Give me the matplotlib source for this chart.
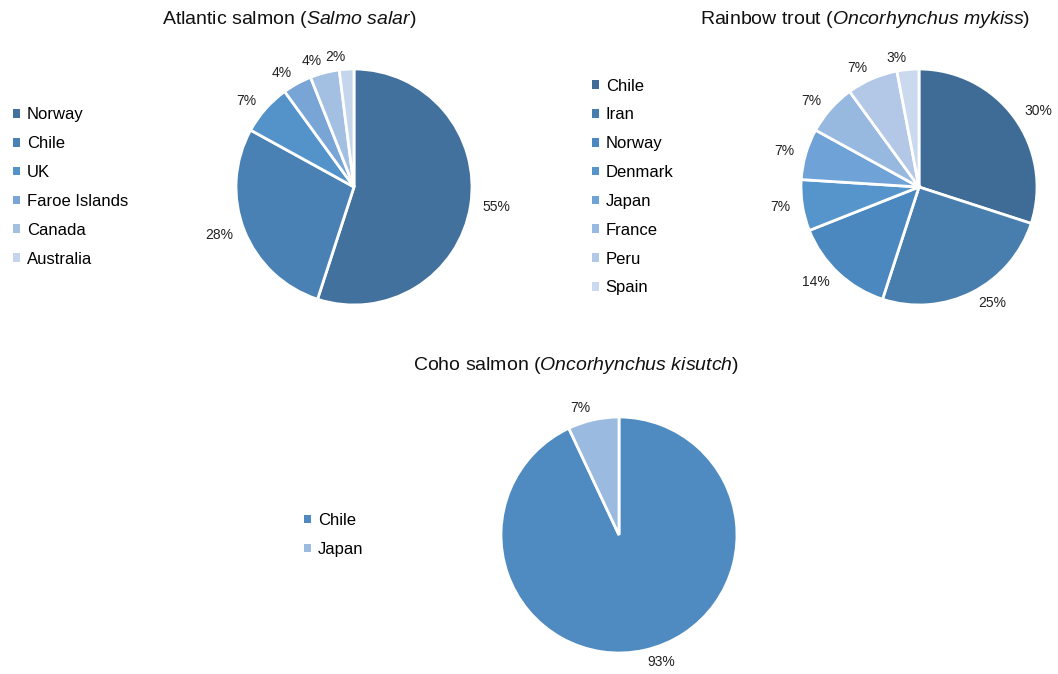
import matplotlib.pyplot as plt
from matplotlib.patches import Rectangle

plt.rcParams['font.family'] = ['Liberation Sans', 'DejaVu Sans']
plt.rcParams['mathtext.fontset'] = 'custom'
plt.rcParams['mathtext.rm'] = 'Liberation Sans'
plt.rcParams['mathtext.it'] = 'Liberation Sans:italic'

atl_names = ['Norway', 'Chile', 'UK', 'Faroe Islands', 'Canada', 'Australia']
atl_vals = [55, 28, 7, 4, 4, 2]
atl_cols = ['#41719c', '#4a81b4', '#5393ca', '#79a5d6', '#a3c0e3', '#c5d5ec']

rbt_names = ['Chile', 'Iran', 'Norway', 'Denmark', 'Japan', 'France', 'Peru', 'Spain']
rbt_vals = [30, 25, 14, 7, 7, 7, 7, 3]
rbt_cols = ['#3f6c96', '#477eae', '#4b88bf', '#5595cc', '#6fa2d7', '#97b8df', '#b2c8e6', '#cad9ee']

coho_names = ['Chile', 'Japan']
coho_vals = [93, 7]
coho_cols = ['#4f8bc0', '#9abae0']

W, H = 1058, 674
fig = plt.figure(figsize=(W / 100, H / 100), dpi=100)

R = 118


def draw(cx, cy, vals, names, cols, title, tx, ty, lx):
    ax = fig.add_axes([(cx - R) / W, 1 - (cy + R) / H, 2 * R / W, 2 * R / H])
    ax.pie(vals, colors=cols, startangle=90, counterclock=False,
           labels=['%d%%' % v for v in vals], labeldistance=1.1,
           wedgeprops=dict(edgecolor='white', linewidth=2),
           textprops=dict(fontsize=10, color='#222222'))
    ax.set_xlim(-1, 1)
    ax.set_ylim(-1, 1)
    ax.set_aspect('auto')
    fig.text(tx / W, 1 - ty / H, title, ha='center', va='center', fontsize=14, color='#111111')
    handles = [Rectangle((0, 0), 1, 1, facecolor=c, edgecolor='none') for c in cols]
    fig.legend(handles, names, loc='center left', bbox_to_anchor=(lx / W, 1 - cy / H),
               frameon=False, fontsize=12, handlelength=0.42, handleheight=0.42,
               handletextpad=0.4, labelspacing=0.83, borderpad=0, borderaxespad=0)


draw(354, 187, atl_vals, atl_names, atl_cols,
     r'Atlantic salmon ($\mathit{Salmo\ salar}$)', 289, 19, 13)
draw(919, 187, rbt_vals, rbt_names, rbt_cols,
     r'Rainbow trout ($\mathit{Oncorhynchus\ mykiss}$)', 865, 19, 592)
draw(619, 535, coho_vals, coho_names, coho_cols,
     r'Coho salmon ($\mathit{Oncorhynchus\ kisutch}$)', 576, 366, 304)

fig.savefig('out.png', dpi=100)
